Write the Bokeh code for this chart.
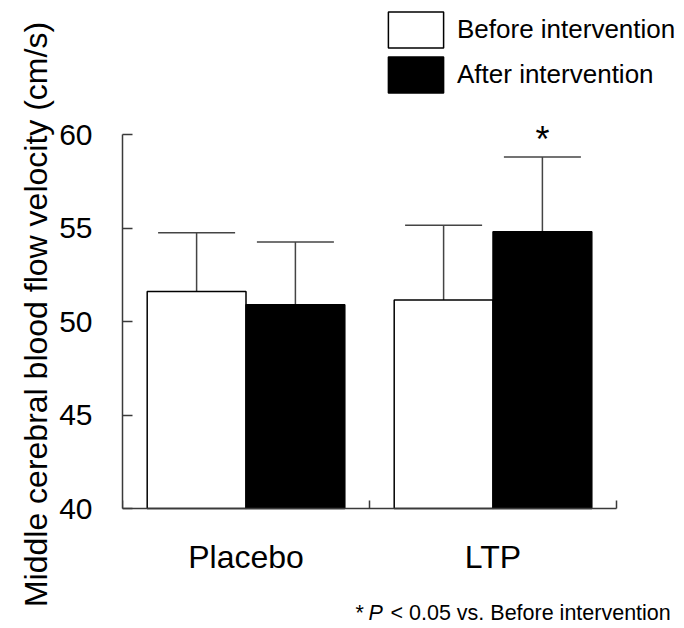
from bokeh.plotting import figure
from bokeh.models import (ColumnDataSource, Range1d, LinearAxis, FixedTicker, Whisker, TeeHead,
                          Legend, LegendItem, Label, Title)
from bokeh.core.properties import value
from bokeh.embed import file_html
from bokeh.resources import INLINE

# ---- data ----
groups = ["Placebo", "LTP"]
before_mean = [51.6, 51.15]
before_sd = [3.15, 4.0]
after_mean = [50.9, 54.8]
after_sd = [3.35, 4.0]
after_sig = ["", "*"]
y_ticks = [40, 45, 50, 55, 60]
series_labels = ["Before intervention", "After intervention"]
y_title = "Middle cerebral blood flow velocity (cm/s)"
footnote_parts = ["*", "P", "< 0.05 vs. Before intervention"]

FONT = "Liberation Sans"
AX = "#3a3a3a"
BAR_W = 0.4
PX_PER_UNIT = 18.7
y_min, y_max = y_ticks[0], y_ticks[-1]
n = len(groups)

centers = [i + 0.5 for i in range(n)]
src = ColumnDataSource(dict(
    x_before=[c - BAR_W / 2 for c in centers],
    x_after=[c + BAR_W / 2 for c in centers],
    before_mean=before_mean,
    before_upper=[m + s for m, s in zip(before_mean, before_sd)],
    after_mean=after_mean,
    after_upper=[m + s for m, s in zip(after_mean, after_sd)],
    after_sig=after_sig,
    base=[y_min] * n,
))
lab_src = ColumnDataSource(dict(x=centers, y=[y_min] * n, text=groups))

p = figure(width=684, height=628, output_backend="svg", toolbar_location=None,
           x_range=Range1d(0, n * 562 / 494),
           y_range=Range1d(y_min - 120 / PX_PER_UNIT, y_min + 508 / PX_PER_UNIT),
           x_axis_location=None, frame_width=562, frame_height=628,
           min_border_left=122, min_border_right=0, min_border_top=0, min_border_bottom=0)
p.outline_line_color = None
p.xgrid.visible = False
p.ygrid.visible = False
p.background_fill_color = "white"
p.border_fill_color = "white"

# y axis
ya = p.yaxis[0]
ya.bounds = (y_min, y_max)
ya.ticker = FixedTicker(ticks=y_ticks)
ya.minor_tick_line_color = None
ya.major_tick_in = 10
ya.major_tick_out = 0
ya.axis_line_color = AX
ya.axis_line_width = 1.5
ya.major_tick_line_color = AX
ya.major_tick_line_width = 1.5
ya.major_label_text_font = FONT
ya.major_label_text_font_size = "30px"
ya.major_label_text_color = "black"
ya.major_label_standoff = 30

# y title
p.add_layout(Title(text=y_title, align="center", offset=-24, standoff=6,
                   text_font=FONT, text_font_size="32px", text_font_style="normal",
                   text_color="black"), "left")

# x axis: line at y=40 with group boundary ticks
sep_ticks = list(range(n + 1))
sep_axis = LinearAxis(ticker=FixedTicker(ticks=sep_ticks), bounds=(0, n), fixed_location=y_min,
                      major_tick_in=8, major_tick_out=0, minor_tick_line_color=None,
                      axis_line_color=AX, axis_line_width=1.5,
                      major_tick_line_color=AX, major_tick_line_width=1.5,
                      major_label_overrides={t: "" for t in sep_ticks},
                      major_label_text_font_size="0px", major_label_standoff=0)
p.add_layout(sep_axis, "below")

# group names under the axis
p.text(x="x", y="y", text="text", source=lab_src, text_font=value(FONT),
       text_font_size="32px", text_align="center", text_baseline="middle",
       y_offset=48, text_color="black")

# bars
r_before = p.vbar(x="x_before", top="before_mean", bottom="base", width=BAR_W, source=src,
                  fill_color="white", line_color="black", line_width=1.5)
r_after = p.vbar(x="x_after", top="after_mean", bottom="base", width=BAR_W, source=src,
                 fill_color="black", line_color="black", line_width=1.5)

# error bars (upper only)
for xcol, lo, hi in [("x_before", "before_mean", "before_upper"), ("x_after", "after_mean", "after_upper")]:
    w = Whisker(source=src, base=xcol, lower=lo, upper=hi,
                dimension="height", lower_head=None,
                upper_head=TeeHead(size=77, line_color="#444444", line_width=1.5),
                line_color="#444444", line_width=1.5)
    p.add_layout(w)

# significance marker
p.text(x="x_after", y="after_upper", text="after_sig", source=src,
       text_font=value(FONT), text_font_size="36px", text_align="center",
       text_baseline="alphabetic", y_offset=-17, text_color="black")

# legend
legend = Legend(items=[LegendItem(label=series_labels[0], renderers=[r_before]),
                       LegendItem(label=series_labels[1], renderers=[r_after])],
                location=(259, 531), orientation="vertical",
                glyph_width=69, glyph_height=45, label_height=45, spacing=-1,
                label_standoff=7, padding=0, margin=0,
                label_text_font=FONT, label_text_font_size="26px", label_text_color="black",
                border_line_color=None, background_fill_alpha=0)
p.add_layout(legend)

# footnote (italic P)
fn = dict(x_units="screen", y_units="screen", y=16, text_baseline="alphabetic",
          text_align="left", text_font=FONT, text_font_size="21.5px", text_color="black")
p.add_layout(Label(x=233, text=footnote_parts[0], **fn))
p.add_layout(Label(x=246, text=footnote_parts[1], text_font_style="italic", **fn))
p.add_layout(Label(x=268, text=footnote_parts[2], **fn))

open("out.html", "w").write(file_html(p, INLINE))
